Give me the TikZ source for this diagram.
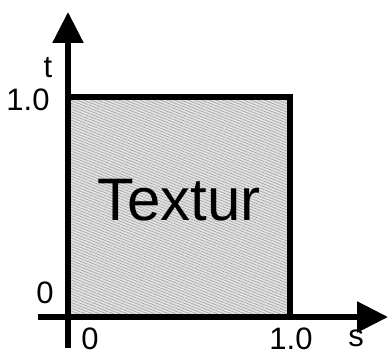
\documentclass[tikz,border=0pt]{standalone}
\usepackage{fontspec}
\setmainfont{Liberation Sans}
\usetikzlibrary{arrows.meta,patterns.meta}
\begin{document}
\begin{tikzpicture}[x=1pt, y=1pt, font=\fontsize{31}{31}\selectfont, line join=miter, >={Triangle[length=31pt,width=30pt]}]
				\useasboundingbox (0,0) rectangle (388,355);
				\path	(68,38) coordinate (O)
				(68,7) coordinate (T0)
				(68,343) coordinate (T1)
				(38,38) coordinate (S0)
				(388,38) coordinate (S1)
				(290,258) coordinate (R);
				% Textur
				\fill[gray!22] (O) rectangle (R);
				\pattern[pattern={Lines[angle=-22,distance=2.6pt,line width=0.6pt]}, pattern color=gray!75] (O) rectangle (R);
				\draw[line width=6pt] (O) rectangle (R);
				\draw[line width=5.5pt,->] (T0)--(T1);
				\draw[line width=5.5pt,->] (S0)--(S1);
				\node (tex) at (179,155) {\fontsize{60}{60}\selectfont Textur};
				\foreach \n/\p/\l in {t/{48,287}/t, tone/{28,255}/1.0, tzero/{45,62}/0, szero/{90,16}/0, sone/{291,16}/1.0, s/{356,17}/s}
					\node[inner sep=0pt] (\n) at (\p) {\l};
		\end{tikzpicture}
\end{document}
